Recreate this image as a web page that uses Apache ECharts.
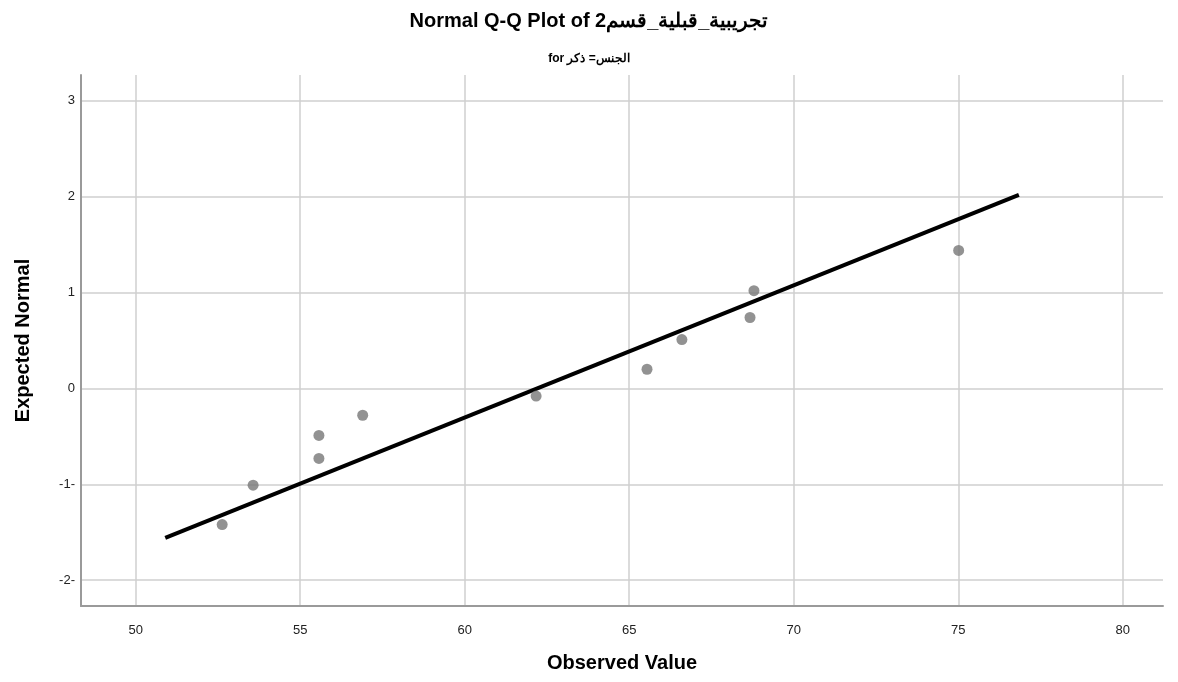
<!DOCTYPE html>
<html>
<head>
<meta charset="utf-8">
<script src="https://cdn.jsdelivr.net/npm/echarts@6/dist/echarts.min.js"></script>
<style>html,body{margin:0;padding:0;background:#fff}#c{width:1178px;height:682px}</style>
</head>
<body>
<div id="c"></div>
<script>
var titleText = 'Normal Q-Q Plot of تجريبية_قبلية_قسم2';
var subtitleText = 'for الجنس= ذكر';
var xTicks = [50, 55, 60, 65, 70, 75, 80];
var yTicks = [-2, -1, 0, 1, 2, 3];
var yTickLabels = {'-2': '-2-', '-1': '-1-', '0': '0', '1': '1', '2': '2', '3': '3'};
var observed = [52.63, 53.57, 55.57, 55.57, 56.90, 62.17, 65.54, 66.60, 68.67, 68.79, 75.01];
var expected = [-1.42, -1.01, -0.73, -0.49, -0.28, -0.08, 0.20, 0.51, 0.74, 1.02, 1.44];
var lineX = [50.90, 76.84];
var lineY = [-1.56, 2.02];

var pts = observed.map(function (v, i) { return [v, expected[i]]; });
var linePts = lineX.map(function (v, i) { return [v, lineY[i]]; });

var chart = echarts.init(document.getElementById('c'));
chart.setOption({
  animation: false,
  backgroundColor: '#fff',
  title: [
    {text: titleText, left: 'center', top: 6, textStyle: {fontFamily: 'Liberation Sans, Arial', fontSize: 20, fontWeight: 'bold', color: '#000'}},
    {text: subtitleText, left: 'center', top: 48, textStyle: {fontFamily: 'Liberation Sans, Arial', fontSize: 12, fontWeight: 'bold', color: '#000'}}
  ],
  grid: {left: 81, right: 15, top: 75, bottom: 76, containLabel: false},
  xAxis: {
    type: 'value', min: 48.34, max: 81.22,
    name: 'Observed Value', nameLocation: 'middle', nameGap: 47,
    nameTextStyle: {fontFamily: 'Liberation Sans, Arial', fontSize: 20, fontWeight: 'bold', color: '#000'},
    axisLine: {show: true, onZero: false, lineStyle: {color: '#9a9a9a', width: 2}},
    axisTick: {show: false, customValues: xTicks},
    axisLabel: {customValues: xTicks, margin: 18, fontFamily: 'Liberation Sans, Arial', fontSize: 13, color: '#222'},
    splitLine: {show: true, lineStyle: {color: '#cfcfcf', width: 1.5}}
  },
  yAxis: {
    type: 'value', min: -2.27, max: 3.27,
    name: 'Expected Normal', nameLocation: 'middle', nameGap: 48,
    nameTextStyle: {fontFamily: 'Liberation Sans, Arial', fontSize: 20, fontWeight: 'bold', color: '#000'},
    axisLine: {show: true, onZero: false, lineStyle: {color: '#9a9a9a', width: 2}},
    axisTick: {show: false, customValues: yTicks},
    axisLabel: {customValues: yTicks, margin: 6, fontFamily: 'Liberation Sans, Arial', fontSize: 13, color: '#222',
      formatter: function (v) { var k = String(Math.round(v)); return yTickLabels[k] !== undefined ? yTickLabels[k] : k; }},
    splitLine: {show: true, lineStyle: {color: '#cfcfcf', width: 1.5}}
  },
  series: [
    {type: 'line', data: linePts, symbol: 'none', lineStyle: {color: '#000', width: 4}, z: 2},
    {type: 'scatter', data: pts, symbolSize: 11, itemStyle: {color: '#777777'}, z: 3}
  ]
});
</script>
</body>
</html>
